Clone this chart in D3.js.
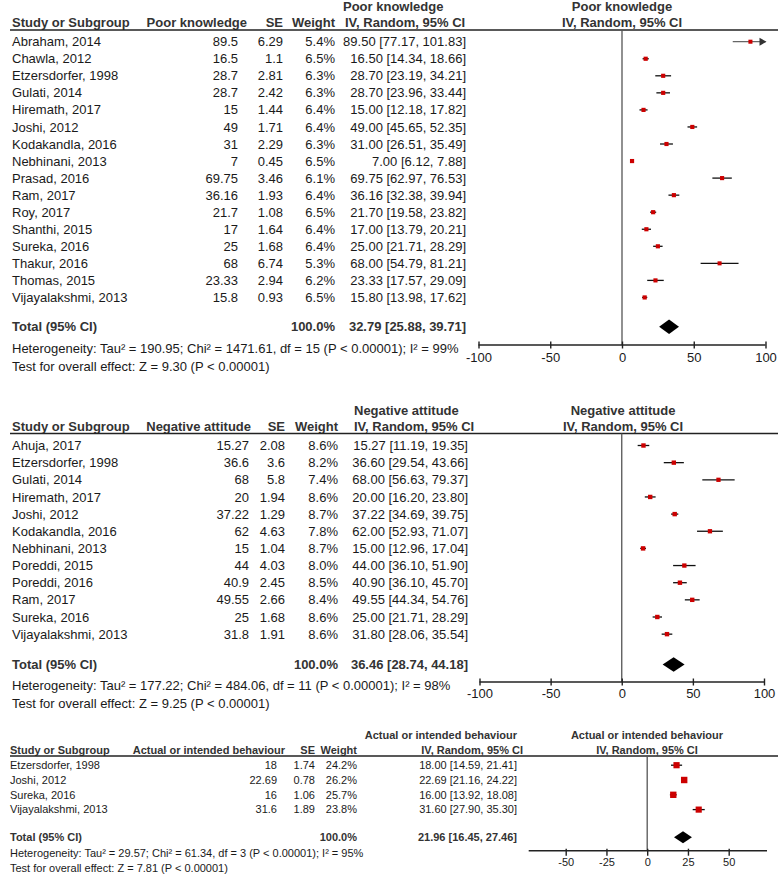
<!DOCTYPE html>
<html>
<head>
<meta charset="utf-8">
<script src="https://cdn.jsdelivr.net/npm/d3@7"></script>
<style>
    body { margin: 0; background: #fff; }
    svg { display: block; font-family: "Liberation Sans", Arial, sans-serif; }
</style>
</head>
<body>
<svg id="chart"></svg>
<script>
// --- poor knowledge
var knowStudies = ['Abraham, 2014', 'Chawla, 2012', 'Etzersdorfer, 1998', 'Gulati, 2014', 'Hiremath, 2017',
    'Joshi, 2012', 'Kodakandla, 2016', 'Nebhinani, 2013', 'Prasad, 2016', 'Ram, 2017', 'Roy, 2017',
    'Shanthi, 2015', 'Sureka, 2016', 'Thakur, 2016', 'Thomas, 2015', 'Vijayalakshmi, 2013'];
var knowMean = [89.5, 16.5, 28.7, 28.7, 15, 49, 31, 7, 69.75, 36.16, 21.7, 17, 25, 68, 23.33, 15.8];
var knowSE = [6.29, 1.1, 2.81, 2.42, 1.44, 1.71, 2.29, 0.45, 3.46, 1.93, 1.08, 1.64, 1.68, 6.74, 2.94, 0.93];
var knowWeight = [5.4, 6.5, 6.3, 6.3, 6.4, 6.4, 6.3, 6.5, 6.1, 6.4, 6.5, 6.4, 6.4, 5.3, 6.2, 6.5];
var knowLow = [77.17, 14.34, 23.19, 23.96, 12.18, 45.65, 26.51, 6.12, 62.97, 32.38, 19.58, 13.79, 21.71, 54.79, 17.57, 13.98];
var knowHigh = [101.83, 18.66, 34.21, 33.44, 17.82, 52.35, 35.49, 7.88, 76.53, 39.94, 23.82, 20.21, 28.29, 81.21, 29.09, 17.62];
var knowTotal = [32.79, 25.88, 39.71];
var knowNotes = ['Heterogeneity: Tau\u00b2 = 190.95; Chi\u00b2 = 1471.61, df = 15 (P < 0.00001); I\u00b2 = 99%',
    'Test for overall effect: Z = 9.30 (P < 0.00001)'];

// --- negative attitude
var attStudies = ['Ahuja, 2017', 'Etzersdorfer, 1998', 'Gulati, 2014', 'Hiremath, 2017', 'Joshi, 2012',
    'Kodakandla, 2016', 'Nebhinani, 2013', 'Poreddi, 2015', 'Poreddi, 2016', 'Ram, 2017', 'Sureka, 2016',
    'Vijayalakshmi, 2013'];
var attMean = [15.27, 36.6, 68, 20, 37.22, 62, 15, 44, 40.9, 49.55, 25, 31.8];
var attSE = [2.08, 3.6, 5.8, 1.94, 1.29, 4.63, 1.04, 4.03, 2.45, 2.66, 1.68, 1.91];
var attWeight = [8.6, 8.2, 7.4, 8.6, 8.7, 7.8, 8.7, 8.0, 8.5, 8.4, 8.6, 8.6];
var attLow = [11.19, 29.54, 56.63, 16.20, 34.69, 52.93, 12.96, 36.10, 36.10, 44.34, 21.71, 28.06];
var attHigh = [19.35, 43.66, 79.37, 23.80, 39.75, 71.07, 17.04, 51.90, 45.70, 54.76, 28.29, 35.54];
var attTotal = [36.46, 28.74, 44.18];
var attNotes = ['Heterogeneity: Tau\u00b2 = 177.22; Chi\u00b2 = 484.06, df = 11 (P < 0.00001); I\u00b2 = 98%',
    'Test for overall effect: Z = 9.25 (P < 0.00001)'];

// --- actual or intended behaviour
var behStudies = ['Etzersdorfer, 1998', 'Joshi, 2012', 'Sureka, 2016', 'Vijayalakshmi, 2013'];
var behMean = [18, 22.69, 16, 31.6];
var behSE = [1.74, 0.78, 1.06, 1.89];
var behWeight = [24.2, 26.2, 25.7, 23.8];
var behLow = [14.59, 21.16, 13.92, 27.90];
var behHigh = [21.41, 24.22, 18.08, 35.30];
var behTotal = [21.96, 16.45, 27.46];
var behNotes = ['Heterogeneity: Tau\u00b2 = 29.57; Chi\u00b2 = 61.34, df = 3 (P < 0.00001); I\u00b2 = 95%',
    'Test for overall effect: Z = 7.81 (P < 0.00001)'];

var wideTicks = [-100, -50, 0, 50, 100];
var narrowTicks = [-50, -25, 0, 25, 50];
var narrowAxisExtent = [-72.7, 73.5];

var width = 778,
    height = 875,
    svg = d3.select('#chart').attr('width', width).attr('height', height),
    boxSize = d3.scaleLinear().domain([5, 26]).range([4, 6.4]);

function fmt2(v) { return v.toFixed(2); }

function drawPanel(p) {
    var g = svg.append('g'),
        fs = p.fontSize,
        x = d3.scaleLinear().domain(p.domain).range(p.range),
        y = d3.scaleLinear().domain([0, p.studies.length - 1])
            .range([p.row0, p.row0 + p.step * (p.studies.length - 1)]);

    function txt(xx, yy, s, anchor, bold) {
        return g.append('text')
            .attr('x', xx).attr('y', yy).attr('dy', '0.35em')
            .attr('text-anchor', anchor || 'start')
            .attr('font-size', fs)
            .attr('font-weight', bold ? 'bold' : 'normal')
            .attr('fill', bold ? '#333' : '#1a1a1a')
            .text(s);
    }

    // headers
    txt(p.ciHead1X, p.head1, p.outcome, p.ciHeadAnchor, true);
    txt(p.plotHeadX, p.head1, p.outcome, 'middle', true);
    txt(p.studyX, p.head2, 'Study or Subgroup', 'start', true);
    txt(p.valHeadX, p.head2, p.outcome, 'end', true);
    txt(p.seX, p.head2, 'SE', 'end', true);
    txt(p.wX, p.head2, 'Weight', 'end', true);
    txt(p.ciHead2X, p.head2, 'IV, Random, 95% CI', p.ciHeadAnchor, true);
    txt(p.plotHeadX, p.head2, 'IV, Random, 95% CI', 'middle', true);

    g.append('line')
        .attr('x1', 10).attr('x2', width)
        .attr('y1', p.rule).attr('y2', p.rule)
        .attr('stroke', '#222').attr('stroke-width', 1.4);

    // zero line
    g.append('line')
        .attr('x1', x(0)).attr('x2', x(0))
        .attr('y1', p.rule).attr('y2', p.axisY)
        .attr('stroke', '#555').attr('stroke-width', 1.3);

    // table rows
    p.studies.forEach(function (s, i) {
        var yy = y(i);
        txt(p.studyX, yy, s);
        txt(p.valX, yy, String(p.mean[i]), 'end');
        txt(p.seX, yy, String(p.se[i]), 'end');
        txt(p.wX, yy, p.weight[i].toFixed(1) + '%', 'end');
        txt(p.ciX, yy, fmt2(p.mean[i]) + ' [' + fmt2(p.low[i]) + ', ' + fmt2(p.high[i]) + ']', 'end');
    });

    // CI whiskers
    var dMax = p.domain[1];
    g.selectAll('line.ci').data(p.studies).enter().append('line')
        .attr('class', 'ci')
        .attr('x1', function (d, i) { return x(p.low[i]); })
        .attr('x2', function (d, i) { return x(Math.min(p.high[i], dMax)); })
        .attr('y1', function (d, i) { return y(i); })
        .attr('y2', function (d, i) { return y(i); })
        .attr('stroke', function (d, i) { return p.high[i] > dMax ? '#666' : '#111'; })
        .attr('stroke-width', 1.3);

    // arrow heads for CIs running off the scale
    p.studies.forEach(function (s, i) {
        if (p.high[i] > dMax) {
            var ax = x(dMax), yy = y(i);
            g.append('path')
                .attr('d', 'M' + (ax - 6) + ',' + (yy - 4) + 'L' + (ax + 1) + ',' + yy + 'L' + (ax - 6) + ',' + (yy + 4) + 'Z')
                .attr('fill', '#333');
        }
    });

    // study boxes
    g.selectAll('rect.box').data(p.studies).enter().append('rect')
        .attr('class', 'box')
        .attr('x', function (d, i) { return x(p.mean[i]) - boxSize(p.weight[i]) / 2; })
        .attr('y', function (d, i) { return y(i) - boxSize(p.weight[i]) / 2; })
        .attr('width', function (d, i) { return boxSize(p.weight[i]); })
        .attr('height', function (d, i) { return boxSize(p.weight[i]); })
        .attr('fill', '#cc0000');

    // total
    txt(p.studyX, p.totalY, 'Total (95% CI)', 'start', true);
    txt(p.wX, p.totalY, '100.0%', 'end', true);
    txt(p.ciX, p.totalY, fmt2(p.total[0]) + ' [' + fmt2(p.total[1]) + ', ' + fmt2(p.total[2]) + ']', 'end', true);

    g.append('path')
        .attr('d', 'M' + x(p.total[1]) + ',' + p.totalY +
            'L' + x(p.total[0]) + ',' + (p.totalY - p.diamondH) +
            'L' + x(p.total[2]) + ',' + p.totalY +
            'L' + x(p.total[0]) + ',' + (p.totalY + p.diamondH) + 'Z')
        .attr('fill', '#000');

    txt(p.studyX, p.notesY[0], p.notes[0]);
    txt(p.studyX, p.notesY[1], p.notes[1]);

    // axis
    var axisG = g.append('g')
        .attr('transform', 'translate(0,' + p.axisY + ')')
        .call(d3.axisBottom(x).tickValues(p.ticks)
            .tickFormat(function (d) { return String(d); })
            .tickSize(p.tickDown).tickSizeOuter(0));
    axisG.select('.domain').remove();
    axisG.append('line')
        .attr('x1', x(p.axisExtent[0])).attr('x2', x(p.axisExtent[1]))
        .attr('stroke', '#222').attr('stroke-width', 1.4);
    axisG.selectAll('.tick line')
        .attr('y1', -p.tickUp)
        .attr('stroke', '#222').attr('stroke-width', 1.4);
    axisG.selectAll('.tick text')
        .attr('y', p.labelDy).attr('dy', '0.35em')
        .attr('font-size', fs)
        .attr('font-family', '"Liberation Sans", Arial, sans-serif')
        .attr('fill', '#1a1a1a');
}

drawPanel({
    outcome: 'Poor knowledge', studies: knowStudies, mean: knowMean, se: knowSE, weight: knowWeight,
    low: knowLow, high: knowHigh, total: knowTotal, notes: knowNotes,
    fontSize: 13, head1: 6.5, head2: 22.5, rule: 30, row0: 41.7, step: 17.05,
    totalY: 326.7, notesY: [348.3, 366.5], diamondH: 7.2,
    studyX: 12, valHeadX: 247, valX: 238, seX: 283, wX: 335, ciX: 466,
    ciHead1X: 343, ciHead2X: 345, ciHeadAnchor: 'start', plotHeadX: 622,
    domain: [-100, 100], range: [478.5, 765.5], ticks: wideTicks, axisExtent: [-100, 100],
    axisY: 345, tickUp: 3.5, tickDown: 3.5, labelDy: 12.5
});

drawPanel({
    outcome: 'Negative attitude', studies: attStudies, mean: attMean, se: attSE, weight: attWeight,
    low: attLow, high: attHigh, total: attTotal, notes: attNotes,
    fontSize: 13, head1: 410, head2: 426.7, rule: 433.5, row0: 445.5, step: 17.15,
    totalY: 664.5, notesY: [685, 703], diamondH: 7.2,
    studyX: 12, valHeadX: 251, valX: 249, seX: 285, wX: 338, ciX: 468,
    ciHead1X: 354, ciHead2X: 354, ciHeadAnchor: 'start', plotHeadX: 623,
    domain: [-100, 100], range: [479.5, 764], ticks: wideTicks, axisExtent: [-100, 100],
    axisY: 682, tickUp: 3.5, tickDown: 3.5, labelDy: 11.5
});

drawPanel({
    outcome: 'Actual or intended behaviour', studies: behStudies, mean: behMean, se: behSE, weight: behWeight,
    low: behLow, high: behHigh, total: behTotal, notes: behNotes,
    fontSize: 11, head1: 735, head2: 750.5, rule: 756, row0: 765.2, step: 14.8,
    totalY: 837.3, notesY: [852.7, 868], diamondH: 6,
    studyX: 10, valHeadX: 285, valX: 277, seX: 315, wX: 357, ciX: 517,
    ciHead1X: 517, ciHead2X: 523, ciHeadAnchor: 'end', plotHeadX: 647,
    domain: [-50, 50], range: [565.7, 728.7], ticks: narrowTicks, axisExtent: narrowAxisExtent,
    axisY: 850.7, tickUp: 2, tickDown: 5, labelDy: 11.5
});
</script>
</body>
</html>
